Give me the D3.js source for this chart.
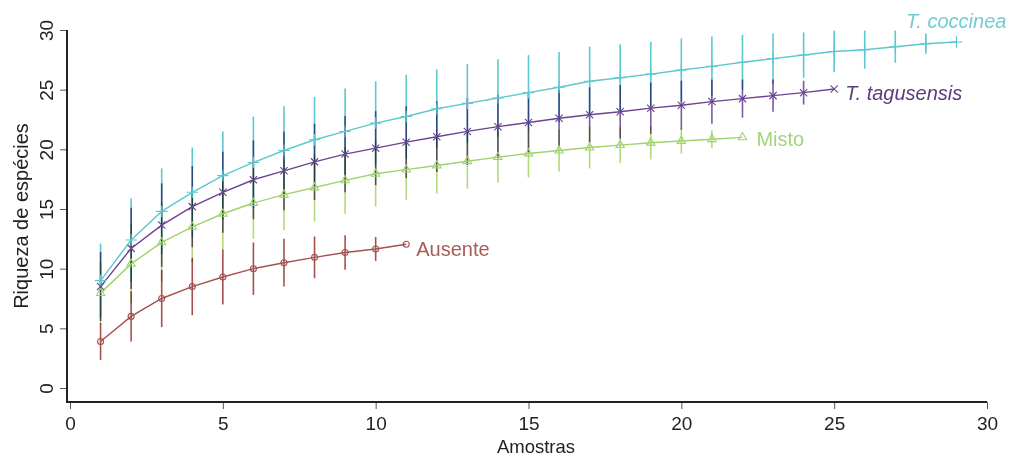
<!DOCTYPE html>
<html>
<head>
<meta charset="utf-8">
<script src="https://cdn.jsdelivr.net/npm/d3@7"></script>
<style>
  body { margin: 0; background: #fff; }
  svg { font-family: "Liberation Sans", Arial, sans-serif; }
</style>
</head>
<body>
<svg width="1012" height="457"></svg>
<script>
// rarefaction curves (mean species richness +/- sd per number of samples)
var coccinea = [9.0, 12.4, 14.8, 16.4, 17.8, 18.9, 19.9, 20.8, 21.5, 22.2, 22.75, 23.4, 23.85, 24.3, 24.75,
  25.2, 25.7, 26.0, 26.3, 26.65, 26.95, 27.3, 27.6, 27.9, 28.2, 28.35, 28.6, 28.85, 29.0];
var coccineaSD = [3.1, 3.5, 3.6, 3.75, 3.7, 3.85, 3.7, 3.6, 3.6, 3.5, 3.5, 3.3, 3.3, 3.25, 3.15,
  2.95, 2.9, 2.8, 2.7, 2.65, 2.5, 2.3, 2.1, 1.9, 1.75, 1.6, 1.35, 0.85, 0];

var tagusensis = [8.5, 11.7, 13.65, 15.2, 16.4, 17.45, 18.2, 18.95, 19.6, 20.1, 20.6, 21.05, 21.5,
  21.9, 22.25, 22.6, 22.9, 23.15, 23.45, 23.7, 24.0, 24.25, 24.5, 24.75, 25.05];
var tagusensisSD = [2.9, 3.4, 3.5, 3.4, 3.4, 3.3, 3.3, 3.2, 3.2, 3.1, 3.0, 2.95, 2.8,
  2.65, 2.5, 2.4, 2.3, 2.25, 2.15, 2.05, 1.85, 1.6, 1.35, 1.0, 0];

var misto = [7.95, 10.4, 12.2, 13.5, 14.6, 15.5, 16.2, 16.8, 17.4, 17.95, 18.3, 18.65, 19.0, 19.35,
  19.65, 19.9, 20.15, 20.35, 20.55, 20.7, 20.85, 21.0];
var mistoSD = [2.6, 3.3, 3.3, 3.0, 3.0, 3.0, 2.95, 2.85, 2.8, 2.75, 2.55, 2.35, 2.3, 2.15,
  2.0, 1.75, 1.75, 1.5, 1.4, 1.05, 0.75, 0];

var ausente = [3.9, 6.0, 7.5, 8.5, 9.3, 10.0, 10.5, 10.95, 11.35, 11.65, 12.05];
var ausenteSD = [1.55, 2.1, 2.4, 2.4, 2.3, 2.2, 2.0, 1.75, 1.45, 1.0, 0];

var xTicks = [0, 5, 10, 15, 20, 25, 30];
var yTicks = [0, 5, 10, 15, 20, 25, 30];

var svg = d3.select('svg');

var xScale = d3.scaleLinear().domain([0, 30]).range([70, 987]);
var yScale = d3.scaleLinear().domain([0, 30]).range([388, 30]);

// series drawing setup
var series = [
  {name: 'Ausente', values: ausente, sd: ausenteSD, color: '#a4504f', bar: '#a4504f', text: '#a65d58',
    shape: 'circle', italic: false, dx: 10, dy: 12, anchor: 'start'},
  {name: 'Misto', values: misto, sd: mistoSD, color: '#9fd36c', bar: '#b2d97a', text: '#a3d47a',
    shape: 'triangle', italic: false, dx: 14, dy: 9, anchor: 'start'},
  {name: 'T. coccinea', values: coccinea, sd: coccineaSD, color: '#5cc8cf', bar: '#5cc8cf', text: '#72ccd1',
    shape: 'plus', italic: true, dx: 50, dy: -14, anchor: 'end'},
  {name: 'T. tagusensis', values: tagusensis, sd: tagusensisSD, color: '#6a4391', bar: '#7a5c9e', text: '#5a3b82',
    shape: 'cross', italic: true, dx: 11, dy: 11, anchor: 'start'}
];

series.forEach(s => {
  s.data = s.values.map((v, i) => ({n: i + 1, v: v, sd: s.sd[i]}));
});

// error bars
var bars = svg.append('g');
series.forEach(s => {
  bars.selectAll(null)
    .data(s.data.filter(d => d.sd > 0))
    .enter().append('line')
    .attr('x1', d => xScale(d.n))
    .attr('x2', d => xScale(d.n))
    .attr('y1', d => yScale(d.v + d.sd))
    .attr('y2', d => yScale(d.v - d.sd))
    .attr('stroke', s.bar)
    .attr('stroke-width', 1.6)
    .style('mix-blend-mode', 'multiply');
});

// lines
var line = d3.line()
  .x(d => xScale(d.n))
  .y(d => yScale(d.v));

series.forEach(s => {
  svg.append('path')
    .attr('d', line(s.data))
    .attr('fill', 'none')
    .attr('stroke', s.color)
    .attr('stroke-width', 1.4);
});

// point markers
var symbols = {
  circle: d3.symbol().type(d3.symbolCircle).size(28),
  triangle: d3.symbol().type(d3.symbolTriangle).size(30),
  plus: d3.symbol().type(d3.symbolCross2 || d3.symbolPlus).size(45),
  cross: d3.symbol().type(d3.symbolX || d3.symbolTimes).size(36)
};

series.forEach(s => {
  svg.append('g').selectAll('path')
    .data(s.data)
    .enter().append('path')
    .attr('transform', d => 'translate(' + [xScale(d.n), yScale(d.v)] + ')')
    .attr('d', symbols[s.shape]())
    .attr('fill', 'none')
    .attr('stroke', s.color)
    .attr('stroke-width', 1.1);
});

// series labels at the end of each curve
series.forEach(s => {
  var last = s.data[s.data.length - 1];
  svg.append('text')
    .attr('x', xScale(last.n) + s.dx)
    .attr('y', yScale(last.v) + s.dy)
    .attr('text-anchor', s.anchor)
    .attr('font-size', 20)
    .attr('font-style', s.italic ? 'italic' : 'normal')
    .attr('fill', s.text)
    .text(s.name);
});

// axes (R style: L-shaped frame)
var xAxis = d3.axisBottom(xScale).tickValues(xTicks).tickSize(7).tickPadding(5);
var yAxis = d3.axisLeft(yScale).tickValues(yTicks).tickSize(7).tickPadding(5);

var gx = svg.append('g')
  .attr('transform', 'translate(' + [0, 402] + ')')
  .call(xAxis);
gx.select('.domain').remove();
gx.selectAll('.tick line').attr('stroke', '#555');
gx.selectAll('.tick text')
  .attr('font-size', 19)
  .attr('font-family', '"Liberation Sans", Arial, sans-serif')
  .attr('fill', '#222')
  .attr('dy', null)
  .attr('y', 28);

var gy = svg.append('g')
  .attr('transform', 'translate(' + [67, 0] + ')')
  .call(yAxis);
gy.select('.domain').remove();
gy.selectAll('.tick line').attr('stroke', '#555');
gy.selectAll('.tick text')
  .attr('font-size', 19)
  .attr('font-family', '"Liberation Sans", Arial, sans-serif')
  .attr('fill', '#222')
  .attr('x', null)
  .attr('dy', null)
  .attr('text-anchor', 'middle')
  .attr('transform', 'translate(-14,0) rotate(-90)');

// frame lines
svg.append('path')
  .attr('d', 'M' + [67, yScale(30)] + 'V402H' + xScale(30))
  .attr('fill', 'none')
  .attr('stroke', '#222')
  .attr('stroke-width', 2);

// axis titles
svg.append('text')
  .attr('x', 536)
  .attr('y', 452.5)
  .attr('text-anchor', 'middle')
  .attr('font-size', 18.5)
  .attr('fill', '#222')
  .text('Amostras');

svg.append('text')
  .attr('transform', 'translate(28,216) rotate(-90)')
  .attr('text-anchor', 'middle')
  .attr('font-size', 20)
  .attr('fill', '#222')
  .text('Riqueza de espécies');
</script>
</body>
</html>
